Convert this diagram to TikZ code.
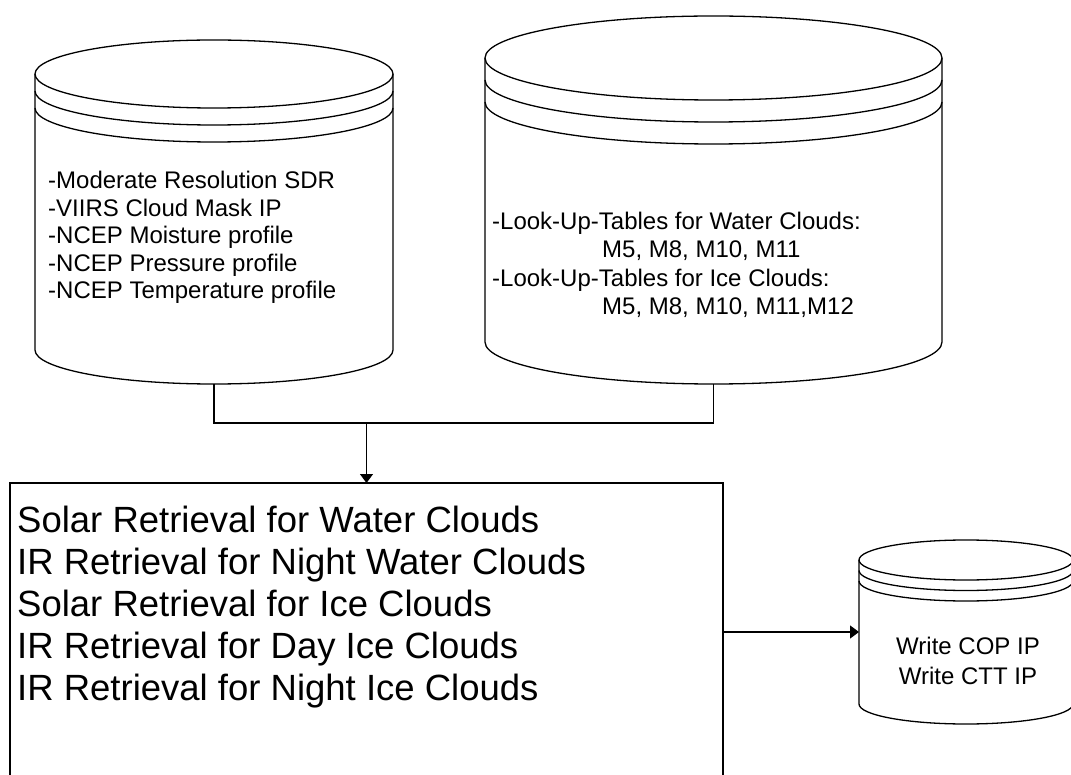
\documentclass[tikz,border=0pt]{standalone}
\usepackage{fontspec}
\setmainfont{Liberation Sans}
\usetikzlibrary{arrows.meta}
\tikzset{
  ln/.style={line width=1.3pt, draw=black},
  arr/.style={ln, -{Triangle[length=9pt,width=13pt]}},
  hold/.style={inner sep=0pt, outer sep=0pt},
  txt/.style={inner sep=0pt, anchor=base west, font=\fontsize{24}{28}\selectfont},
  ctxt/.style={inner sep=0pt, anchor=base, font=\fontsize{24}{28}\selectfont},
  big/.style={inner sep=0pt, anchor=base west, font=\fontsize{36.5}{42}\selectfont},
}
\begin{document}
\begin{tikzpicture}[x=1pt,y=-1pt]
\useasboundingbox (0,0) rectangle (1071,775);
\fill[white] (0,0) rectangle (1071,775);

% placeholder nodes for the three cylinders
\node[hold, minimum width=358pt, minimum height=344pt] (src) at (214,212) {};
\node[hold, minimum width=457pt, minimum height=368pt] (lut) at (713.5,200) {};
\node[hold, minimum width=214pt, minimum height=184pt] (store) at (966,632) {};

% left cylinder
\draw[ln] (35,74) -- (35,350) arc[start angle=180,end angle=360,x radius=179pt,y radius=34pt] -- (393,74);
\draw[ln] (214,74) ellipse [x radius=179pt, y radius=34pt];
\draw[ln] (35,91) arc[start angle=180,end angle=360,x radius=179pt,y radius=34pt];
\draw[ln] (35,108) arc[start angle=180,end angle=360,x radius=179pt,y radius=34pt];

% right cylinder
\draw[ln] (485,58) -- (485,342) arc[start angle=180,end angle=360,x radius=228.5pt,y radius=42pt] -- (942,58);
\draw[ln] (713.5,58) ellipse [x radius=228.5pt, y radius=42pt];
\draw[ln] (485,80) arc[start angle=180,end angle=360,x radius=228.5pt,y radius=42pt];
\draw[ln] (485,102) arc[start angle=180,end angle=360,x radius=228.5pt,y radius=42pt];

% small cylinder
\draw[ln] (859,560) -- (859,704) arc[start angle=180,end angle=360,x radius=107pt,y radius=20pt] -- (1073,560);
\draw[ln] (966,560) ellipse [x radius=107pt, y radius=20pt];
\draw[ln] (859,570.5) arc[start angle=180,end angle=360,x radius=107pt,y radius=20pt];
\draw[ln] (859,581) arc[start angle=180,end angle=360,x radius=107pt,y radius=20pt];

% process box (bottom runs past the page)
\node[hold, ln, draw, anchor=north west, minimum width=713pt, minimum height=317pt] (proc) at (10,483) {};

% connectors
\coordinate (bus) at (214,423);
\draw[ln] (src.south) -- (bus) -| (lut.south);
\draw[arr] (bus -| proc.north) -- (proc.north);
\draw[arr] (proc.east |- store.west) -- (store.west);

% texts: left cylinder
\node[txt] (s1) at (48,189) {-Moderate Resolution SDR};
\node[txt] (s2) at (48,217) {-VIIRS Cloud Mask IP};
\node[txt] (s3) at (48,244) {-NCEP Moisture profile};
\node[txt] (s4) at (48,272) {-NCEP Pressure profile};
\node[txt] (s5) at (48,299) {-NCEP Temperature profile};

% texts: right cylinder
\node[txt] (t1) at (492,229.5) {-Look-Up-Tables for Water Clouds:};
\node[txt] (t2) at (602,258) {M5, M8, M10, M11};
\node[txt] (t3) at (492,286.5) {-Look-Up-Tables for Ice Clouds:};
\node[txt] (t4) at (602,315) {M5, M8, M10, M11,M12};

% texts: process box
\node[big] (p1) at (17,532) {Solar Retrieval for Water Clouds};
\node[big] (p2) at (17,574) {IR Retrieval for Night Water Clouds};
\node[big] (p3) at (17,616) {Solar Retrieval for Ice Clouds};
\node[big] (p4) at (17,658) {IR Retrieval for Day Ice Clouds};
\node[big] (p5) at (17,700) {IR Retrieval for Night Ice Clouds};

% texts: small cylinder
\node[ctxt] (w1) at (968,654) {Write COP IP};
\node[ctxt] (w2) at (968,684) {Write CTT IP};
\end{tikzpicture}
\end{document}
